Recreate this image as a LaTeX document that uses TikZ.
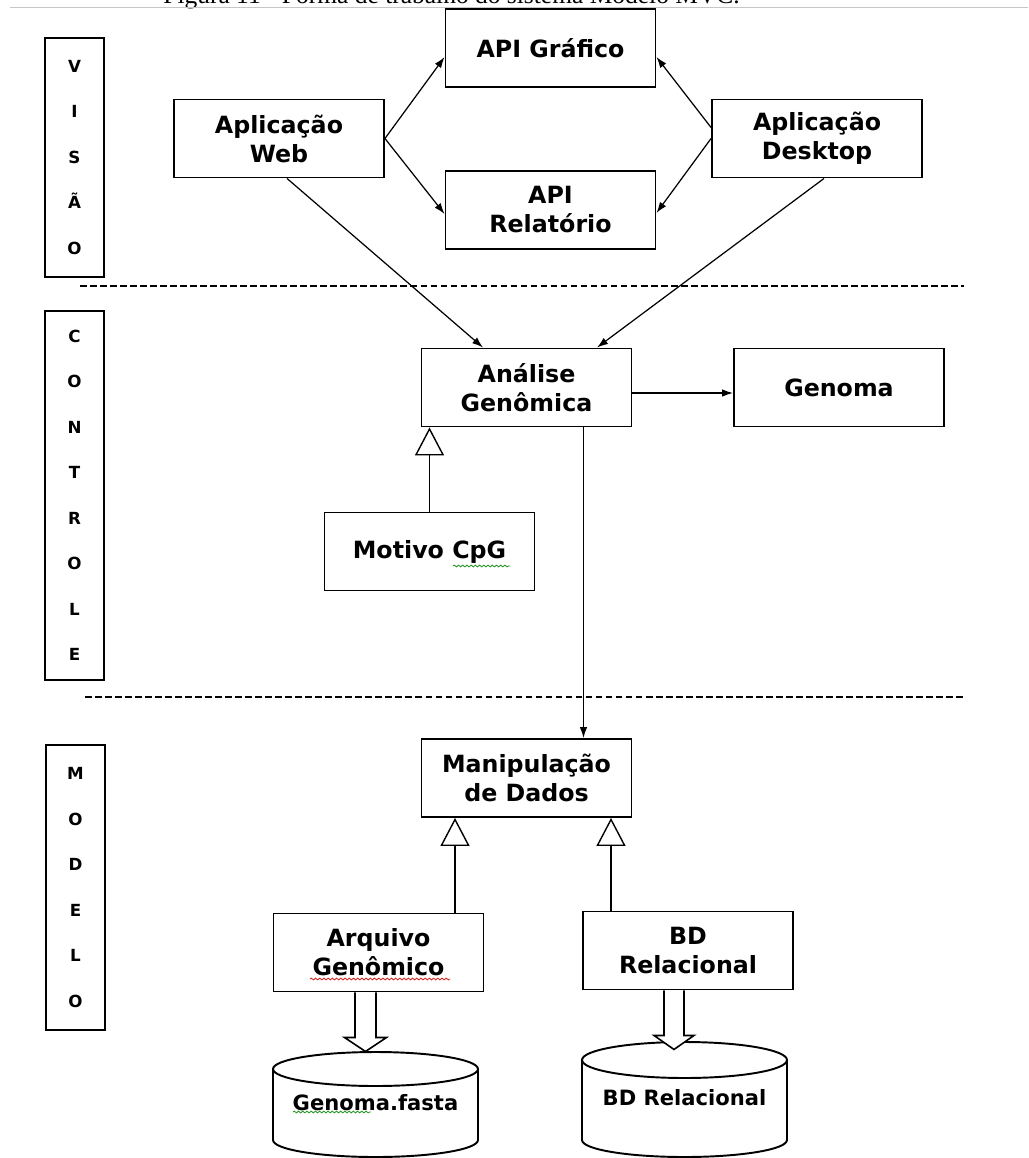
\documentclass[tikz,border=0pt]{standalone}
\usepackage{fontspec}
\usepackage{tikz}
\usetikzlibrary{arrows.meta,calc,decorations.pathmorphing}
\setmainfont{DejaVu Sans}
\newfontfamily\legendafont{Liberation Serif}
\definecolor{ortored}{RGB}{215,40,40}
\definecolor{ortoverde}{RGB}{40,150,40}

\tikzset{
  caixa/.style={draw, line width=1.1pt, minimum width=4.2cm, minimum height=1.56cm,
    align=center, inner sep=2pt, font=\bfseries\fontsize{13.5}{16.5}\selectfont},
  camada/.style={draw, line width=1.1pt, minimum width=1.18cm, align=center,
    font=\bfseries\fontsize{9.5}{25.9}\selectfont},
  dbtexto/.style={inner sep=1pt, font=\bfseries\fontsize{12}{14}\selectfont},
  seta/.style={-{Latex[length=2.2mm,width=1.5mm]}, line width=0.7pt},
  heranca/.style={-{Triangle[open,length=5.6mm,width=5.8mm]}, line width=0.8pt},
  bloco/.style={draw, fill=white, line width=0.9pt, line join=miter},
  divisa/.style={line width=0.9pt, dash pattern=on 3.8pt off 1.9pt},
  ondulado/.style={decorate, decoration={snake, amplitude=0.5pt, segment length=2.4pt}, line width=0.5pt}
}

\begin{document}
\begin{tikzpicture}[x=0.02cm, y=-0.02cm]
  \useasboundingbox (0,0) rectangle (1028,1158);
  \clip (0,0) rectangle (1028,1158);

  % legenda cortada no topo
  \node[anchor=base west, inner sep=0, font=\legendafont\fontsize{14.5}{16}\selectfont] (legenda) at (163,3.5)
    {Figura 11 - Forma de trabalho do sistema Modelo MVC.};
  \draw[gray!45, line width=0.6pt] (10,7.5) -- (1028,7.5);

  % camadas
  \node[camada, minimum height=4.78cm] (visao) at (74.5,157.5) {V\\I\\S\\Ã\\O};
  \node[camada, minimum height=7.38cm] (controle) at (74.5,495.5) {C\\O\\N\\T\\R\\O\\L\\E};
  \node[camada, minimum height=5.7cm] (modelo) at (75.5,887.5) {M\\O\\D\\E\\L\\O};

  \draw[divisa] (80,286) -- (964,286);
  \draw[divisa] (85,697) -- (964,697);

  % visao
  \node[caixa] (web) at (279,138.5) {Aplicação\\Web};
  \node[caixa] (grafico) at (550.5,48) {API Gráfico};
  \node[caixa] (relatorio) at (550.5,210) {API\\Relatório};
  \node[caixa] (desktop) at (817,138.5) {Aplicação\\Desktop};

  % controle
  \node[caixa] (analise) at (526.5,387.5) {Análise\\Genômica};
  \node[caixa] (genoma) at (839,387.5) {Genoma};
  \node[caixa] (motivo) at (429.5,551.5) {Motivo CpG};

  % modelo
  \node[caixa] (manip) at (526.5,778) {Manipulação\\de Dados};
  \node[caixa] (arquivo) at (378.5,952.5) {Arquivo\\Genômico};
  \node[caixa] (bdrel) at (688,950.5) {BD\\Relacional};

  % bancos
  \draw[line width=1.1pt] (375.5,1069) ellipse [x radius=2.05cm, y radius=0.34cm];
  \draw[line width=1.1pt] (273,1069) -- (273,1140) .. controls (273,1149.4) and (318.9,1157) .. (375.5,1157)
    .. controls (432.1,1157) and (478,1149.4) .. (478,1140) -- (478,1069);
  \draw[line width=1.1pt] (684.5,1060) ellipse [x radius=2.05cm, y radius=0.36cm];
  \draw[line width=1.1pt] (582,1060) -- (582,1140) .. controls (582,1149.4) and (627.9,1157) .. (684.5,1157)
    .. controls (741.1,1157) and (787,1149.4) .. (787,1140) -- (787,1060);
  \node[dbtexto] (fasta) at (375.5,1103) {Genoma.fasta};
  \node[dbtexto] (bdtab) at (684.5,1098) {BD Relacional};

  % ligacoes
  \draw[seta] (web.east) -- ([yshift=-0.18cm]grafico.west);
  \draw[seta] (web.east) -- ([yshift=-0.08cm]relatorio.west);
  \draw[seta] ([yshift=0.22cm]desktop.west) -- ([yshift=-0.18cm]grafico.east);
  \draw[seta] (desktop.west) -- ([yshift=-0.06cm]relatorio.east);
  \draw[seta] ([xshift=0.16cm]web.south) -- ([xshift=-0.87cm]analise.north);
  \draw[seta] ([xshift=0.14cm]desktop.south) -- ([xshift=1.41cm]analise.north);
  \draw[seta] ([yshift=-0.11cm]analise.east) -- ([yshift=-0.11cm]genoma.west);
  \draw[seta] ([xshift=1.14cm]analise.south) -- ([xshift=1.14cm]manip.north);

  \coordinate (h1) at ($(arquivo.north)+(76.5,0)$);
  \coordinate (h2) at ($(bdrel.north)+(-77,0)$);
  \draw[heranca] (motivo.north) -- (motivo.north |- analise.south);
  \draw[heranca] (h1) -- (h1 |- manip.south);
  \draw[heranca] (h2) -- (h2 |- manip.south);

  \draw[bloco] ($(arquivo.south)+(-23.5,0)$) -- ++(0,45) -- ++(-10.5,0) -- ++(21,14) -- ++(21,-14) -- ++(-10.5,0) -- ++(0,-45);
  \draw[bloco] ($(bdrel.south)+(-24,0)$) -- ++(0,45) -- ++(-10,0) -- ++(20,14) -- ++(20,-14) -- ++(-10,0) -- ++(0,-45);

  % sublinhados do corretor
  \draw[ondulado, ortoverde] (453,566) -- (510,566);
  \draw[ondulado, ortored] (310,979) -- (450,979);
  \draw[ondulado, ortoverde] (293,1112) -- (371,1112);
\end{tikzpicture}
\end{document}
